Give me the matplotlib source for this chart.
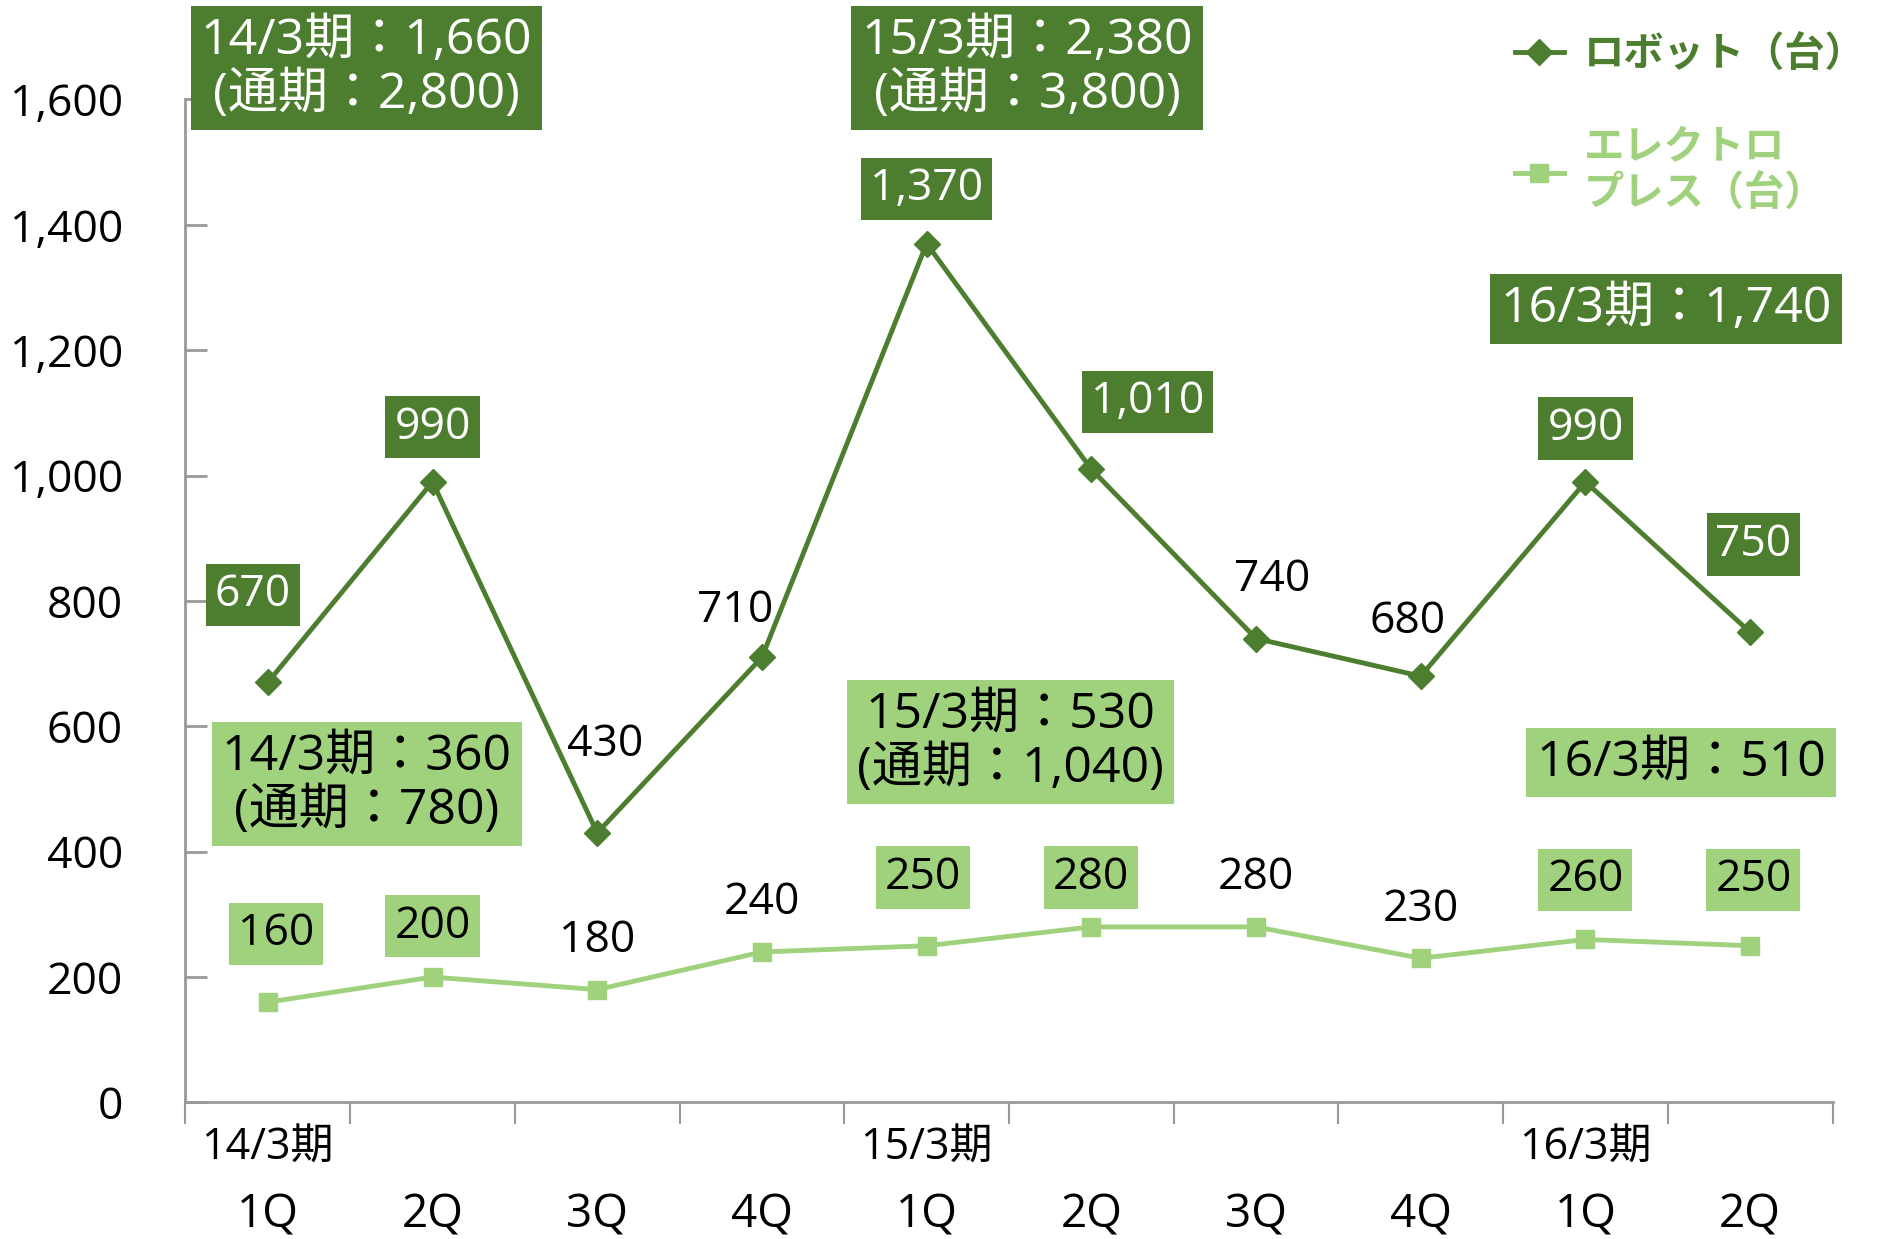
import matplotlib
matplotlib.use("Agg")
import matplotlib.pyplot as plt
from matplotlib.transforms import blended_transform_factory


##############################################################################
# Data

quarters = ["1Q", "2Q", "3Q", "4Q", "1Q", "2Q", "3Q", "4Q", "1Q", "2Q"]
fiscal_years = ["14/3期", "15/3期", "16/3期"]
fiscal_year_start = [0, 4, 8]

robot_units = [670, 990, 430, 710, 1370, 1010, 740, 680, 990, 750]
electro_units = [160, 200, 180, 240, 250, 280, 280, 230, 260, 250]

robot_summary = ["14/3期：1,660\n(通期：2,800)",
                 "15/3期：2,380\n(通期：3,800)",
                 "16/3期：1,740"]
electro_summary = ["14/3期：360\n(通期：780)",
                   "15/3期：530\n(通期：1,040)",
                   "16/3期：510"]

##############################################################################
# Label placement (data coords) and which labels get a box

robot_label_pos = [(-0.09, 810), (1.0, 1077), (2.05, 571), (2.84, 785), (4.0, 1457),
                   (5.34, 1117), (6.1, 834), (6.92, 767), (8.0, 1075), (9.02, 890)]
robot_boxed = [True, True, False, False, True, True, False, False, True, True]
electro_label_pos = [(0.05, 269), (1.0, 281), (2.0, 258), (3.0, 319), (3.98, 359),
                     (5.0, 359), (6.0, 359), (7.0, 307), (8.0, 355), (9.02, 355)]
electro_boxed = [True, True, False, False, True, True, False, False, True, True]
robot_summary_pos = [(0.6, 1650), (4.61, 1650), (8.49, 1266)]
electro_summary_pos = [(0.6, 508), (4.51, 575), (8.58, 542)]

DARK = "#4D7E2F"
LIGHT = "#A0D27E"

plt.rcParams["font.family"] = ["Open Sans", "Noto Sans CJK JP", "DejaVu Sans"]

fig = plt.figure(figsize=(18.77, 12.39), dpi=100)
ax = fig.add_axes([0.0988, 0.1102, 0.8775, 0.8096])

x = list(range(len(quarters)))
ax.plot(x, robot_units, color=DARK, lw=3.5, marker="D", ms=13,
        label="ロボット（台）")
ax.plot(x, electro_units, color=LIGHT, lw=3.5, marker="s", ms=13,
        label="エレクトロ\nプレス（台）")

ax.set_xlim(-0.5, 9.5)
ax.set_ylim(0, 1600)

# axes styling
for side in ["top", "right"]:
    ax.spines[side].set_visible(False)
for side in ["left", "bottom"]:
    ax.spines[side].set_color("#999999")
    ax.spines[side].set_linewidth(2)

ax.set_yticks(range(0, 1601, 200))
ax.set_yticklabels([f"{v:,}" for v in range(0, 1601, 200)], fontsize=32)
ax.tick_params(axis="y", direction="in", length=16, width=2, color="#999999", pad=45)
ax.set_xticks([i - 0.5 for i in range(len(quarters) + 1)])
ax.set_xticklabels([])
ax.tick_params(axis="x", direction="out", length=16, width=1.5, color="#999999")

trans = blended_transform_factory(ax.transData, ax.transAxes)
for i, q in enumerate(quarters):
    ax.text(i, -0.113, q, transform=trans, ha="center", va="center", fontsize=33)
for i, fy in zip(fiscal_year_start, fiscal_years):
    ax.text(i, -0.046, fy, transform=trans, ha="center", va="center", fontsize=31)


##############################################################################
# Labels

def put_label(pos, txt, boxed, face, txtcolor):
    kw = dict(ha="center", va="center", fontsize=32, color="black")
    if boxed:
        kw["color"] = txtcolor
        kw["bbox"] = dict(boxstyle="square,pad=0.2", fc=face, ec="none")
    ax.text(pos[0], pos[1], txt, **kw)


for v, p, b in zip(robot_units, robot_label_pos, robot_boxed):
    put_label(p, f"{v:,}", b, DARK, "white")
for v, p, b in zip(electro_units, electro_label_pos, electro_boxed):
    put_label(p, f"{v:,}", b, LIGHT, "black")

for txt, p in zip(robot_summary, robot_summary_pos):
    ax.text(p[0], p[1], txt, ha="center", va="center", fontsize=36, color="white",
            linespacing=1.12,
            bbox=dict(boxstyle="square,pad=0.2", fc=DARK, ec="none"))
for txt, p in zip(electro_summary, electro_summary_pos):
    ax.text(p[0], p[1], txt, ha="center", va="center", fontsize=36, color="black",
            linespacing=1.12,
            bbox=dict(boxstyle="square,pad=0.2", fc=LIGHT, ec="none"))

leg = ax.legend(loc="upper left", bbox_to_anchor=(0.788, 1.0), bbox_transform=fig.transFigure,
                frameon=False, labelcolor="linecolor", handlelength=1.2, handletextpad=0.5,
                prop={"size": 29, "weight": "bold"}, labelspacing=1.35)

fig.savefig("out.png", dpi=100)
